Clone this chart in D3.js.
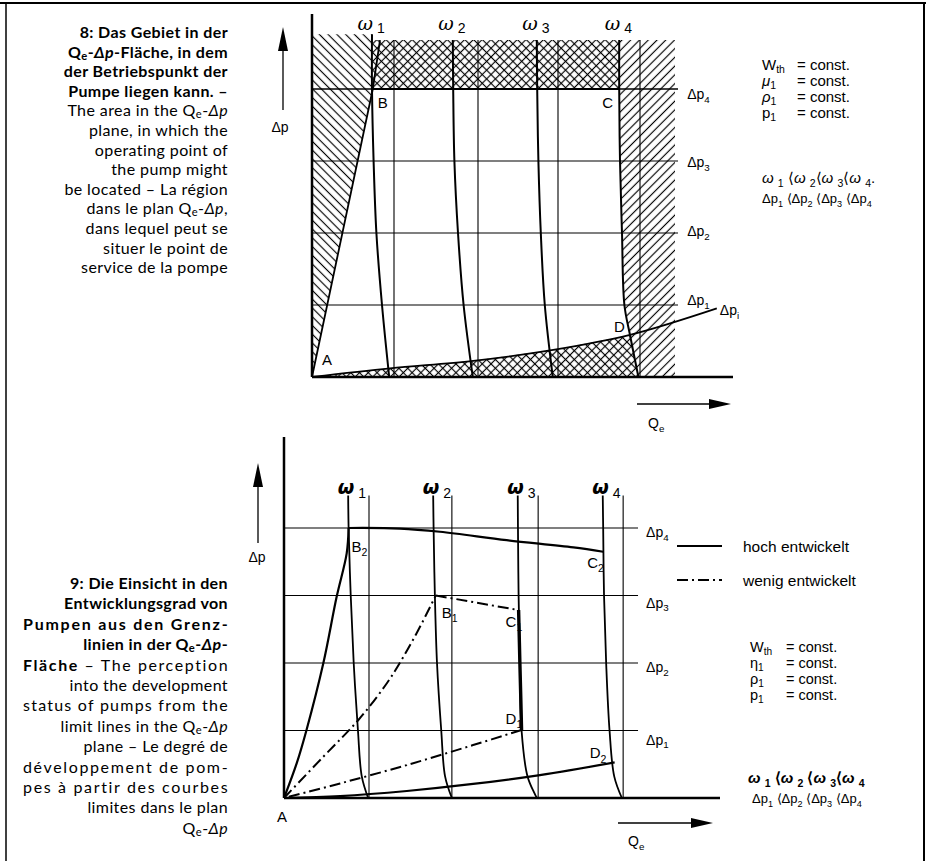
<!DOCTYPE html>
<html><head><meta charset="utf-8">
<script src="https://cdn.jsdelivr.net/npm/d3@7"></script>
<style>body{margin:0;background:#fff} svg{display:block}</style>
</head><body>
<svg id="c" width="933" height="861"></svg>
<script>
// ---------------- data ----------------
const dpLevels = [25, 50, 75, 100];
const levelSubs = ["1", "2", "3", "4"];

// Fig. 8 (top)
const topOmegaLineQ = [20.5, 41.5, 61.5, 82];
const topOmegaCurves = [
  [[15.0,119],[15.0,100],[15.4,75],[16.1,50],[17.5,25],[19.3,0]],
  [[35.2,117],[35.3,100],[35.6,75],[36.5,50],[37.9,25],[40.2,0]],
  [[56.2,117],[56.3,100],[56.6,75],[57.2,50],[58.2,25],[60.2,0]],
  [[76.8,117],[76.8,100],[77.0,75],[77.5,50],[78.1,25],[79.5,14.6],[81.6,0]]
];
const topAB = [[0,0],[15.2,100],[17,117]];
const topDpi = [[0,0],[19.5,3.0],[40.3,5.6],[60.3,9.4],[79.5,14.6],[101.2,23.8]];
const topHatchTop = 117, topHatchRight = 90.75;

// Fig. 9 (bottom)
const botOmegaLineQ = [20, 39.5, 59.8, 79.8];
const botOmegaCurves = [
  [[15.1,112],[15.2,100],[15.7,75],[16.4,50],[17.4,25],[18.3,8],[19.8,0]],
  [[35.1,112],[35.2,100],[35.5,75],[36.0,50],[37.0,25],[37.9,8],[39.5,0]],
  [[55.0,112],[55.05,100],[55.2,75],[55.5,50],[55.9,25],[57.3,8],[59.5,0]],
  [[75.0,112],[75.1,100],[75.3,75],[75.8,50],[76.6,25],[77.7,8],[79.5,0]]
];
// "hoch entwickelt" (solid)
const hiAB = [[0,0],[3.0,12.9],[5.3,25.2],[9.25,49.9],[12.4,74.6],[14.75,90.6],[15.2,100]];
const hiBC = [[15.2,100],[27.3,99.8],[36.7,98.6],[52.4,95.5],[68.1,92.8],[75.1,91.2]];
const hiDA = [[77.8,13.2],[60.2,8.5],[44.5,5.2],[28.9,2.6],[13.2,0.7],[0,0]];
// "wenig entwickelt" (dash-dot)
const loAB = [[0,0],[9.25,15.3],[17.5,28.9],[24.2,42.5],[28.1,52.3],[32,63.4],[35.7,75]];
const loBC = [[35.7,75],[55.2,69.6]];
const loCD = [[55.2,69.6],[55.35,60],[55.5,50],[55.7,38],[55.9,25.2]];
const loDA = [[55.9,25.2],[44.5,19.6],[28.9,12.2],[13.2,5.4],[0,0]];

// texts
const capTop = ["8: Das Gebiet in der","Q_e-*Δp*-Fläche, in dem","der Betriebspunkt der","Pumpe liegen kann. –",
  "The area in the Q_e-*Δp*","plane, in which the","operating point of","the pump might",
  "be located – La région","dans le plan Q_e-*Δp*,","dans lequel peut se","situer le point de","service de la pompe"];
const capTopBold = 4;
const capBot = ["9: Die Einsicht in den","Entwicklungsgrad von","Pumpen aus den Grenz-","linien in der Q_e-*Δp*-",
  "#Fläche# – The perception","into the development","status of pumps from the","limit lines in the Q_e-*Δp*",
  "plane – Le degré de","développement de pom-","pes à partir des courbes","limites dans le plan","Q_e-*Δp*"];
const capBotBold = 4;
const capBotJustify = [2, 4, 6, 9, 10];
const constTop = [["W_{th}","= const."],["*μ*_1","= const."],["*ρ*_1","= const."],["p_1","= const."]];
const constBot = [["W_{th}","= const."],["η_1","= const."],["ρ_1","= const."],["p_1","= const."]];
const orderTopOmega = "*ω* _1 ⟨*ω* _2⟨*ω* _3⟨*ω* _4.";
const orderBotOmega = "*ω* _1 ⟨*ω* _2 ⟨*ω* _3⟨*ω* _4";
const orderDp = "Δp_1 ⟨Δp_2 ⟨Δp_3 ⟨Δp_4";
const legendItems = ["hoch entwickelt", "wenig entwickelt"];

// ---------------- drawing ----------------
const svg = d3.select("#c");
svg.append("rect").attr("width",933).attr("height",861).attr("fill","#fff");
const defs = svg.append("defs");
function hatch(id, angle, cross){
  const s = 6.2, h = s/2;
  const p = defs.append("pattern").attr("id",id).attr("patternUnits","userSpaceOnUse")
    .attr("width",s).attr("height",s).attr("patternTransform",`rotate(${angle})`);
  p.append("line").attr("x1",h).attr("y1",-1).attr("x2",h).attr("y2",s+1).attr("stroke","#000").attr("stroke-width",1.15);
  if(cross) p.append("line").attr("x1",-1).attr("y1",h).attr("x2",s+1).attr("y2",h).attr("stroke","#000").attr("stroke-width",1.15);
}
hatch("hb", -45, false);
hatch("hf", 45, false);
hatch("hx", 45, true);

function rich(t, str, fs, subShift){
  const parts = str.split(/(_\{[^}]*\}|_[^\s{]|\*[^*]*\*|#[^#]*#)/).filter(s => s !== "");
  let shifted = false;
  const sh = fs * (subShift || 0.28);
  parts.forEach(p => {
    const ts = t.append("tspan");
    if(p[0] === "_"){
      const s = p[1] === "{" ? p.slice(2,-1) : p.slice(1);
      ts.text(s).attr("font-size", fs*0.7);
      if(!shifted) ts.attr("dy", sh);
      shifted = true;
    } else {
      if(p[0] === "*"){ ts.text(p.slice(1,-1)).attr("font-style","italic"); }
      else if(p[0] === "#"){ ts.text(p.slice(1,-1)).attr("font-weight","bold"); }
      else ts.text(p);
      if(shifted){ ts.attr("dy", -sh); shifted = false; }
    }
  });
  return t;
}
function txt(g, x, y, str, fs, opt={}){
  const t = g.append("text").attr("x",x).attr("y",y).attr("font-size",fs)
    .attr("font-family", opt.font || "'Liberation Sans', Arial, sans-serif")
    .attr("text-anchor", opt.anchor || "start").attr("fill","#000");
  if(opt.weight) t.attr("font-weight", opt.weight);
  if(opt.style) t.attr("font-style", opt.style);
  if(opt.ls) t.attr("letter-spacing", opt.ls);
  return rich(t, str, fs, opt.subShift);
}

// frame
const frame = svg.append("g").attr("stroke","#000").attr("fill","none");
frame.append("line").attr("x1",0).attr("y1",3).attr("x2",926).attr("y2",3).attr("stroke-width",2);
frame.append("line").attr("x1",6).attr("y1",3).attr("x2",6).attr("y2",861).attr("stroke-width",1.5);
frame.append("line").attr("x1",924).attr("y1",3).attr("x2",924).attr("y2",861).attr("stroke-width",2);

// captions
const capFont = "Lato, 'Open Sans', sans-serif";
capTop.forEach((s,i) => {
  txt(svg, 228, 38 + i*19.6, s, 16, {anchor:"end", font:capFont, ls:0.4, subShift:0.12, weight: i < capTopBold ? "bold" : "normal"});
});
capBot.forEach((s,i) => {
  const t = txt(svg, 228, 589 + i*20.4, s, 16, {anchor:"end", font:capFont, ls:0.4, subShift:0.12, weight: i < capBotBold ? "bold" : "normal"});
  if(capBotJustify.includes(i)) t.attr("textLength", 205).attr("lengthAdjust","spacing");
});

// arrows
function arrowV(x, yTop, yBot){
  svg.append("line").attr("x1",x).attr("y1",yTop+18).attr("x2",x).attr("y2",yBot).attr("stroke","#000").attr("stroke-width",1.3);
  svg.append("path").attr("d",`M${x},${yTop} L${x-5},${yTop+24} L${x+5},${yTop+24} Z`).attr("fill","#000");
}
function arrowH(x1, x2, y){
  svg.append("line").attr("x1",x1).attr("y1",y).attr("x2",x2-18).attr("y2",y).attr("stroke","#000").attr("stroke-width",1.3);
  svg.append("path").attr("d",`M${x2},${y} L${x2-22},${y-5} L${x2-22},${y+5} Z`).attr("fill","#000");
}

// ======== Fig 8 ========
const xT = d3.scaleLinear().domain([0,100]).range([312,712]);
const yT = d3.scaleLinear().domain([0,100]).range([377,89]);
const gT = svg.append("g");
const lin = (xs, ys) => d3.line().x(d => xs(d[0])).y(d => ys(d[1]));
const crv = (xs, ys) => d3.line().x(d => xs(d[0])).y(d => ys(d[1])).curve(d3.curveCatmullRom.alpha(0.5));
const polyT = lin(xT, yT);

const w1 = topOmegaCurves[0], w4 = topOmegaCurves[3];
const iD = w4.findIndex(p => p[1] < 20);
const Dpt = topDpi[4];
// hatch regions
gT.append("path").attr("d", polyT([[0,0],[0,w1[0][1]],[w1[0][0],w1[0][1]],topAB[1],[0,0]])).attr("fill","url(#hb)");
gT.append("path").attr("d", polyT([topAB[1],[w1[0][0],topHatchTop],[w4[0][0],topHatchTop],w4[1]])).attr("fill","url(#hx)");
gT.append("path").attr("d", polyT([...w4, [topHatchRight,0],[topHatchRight,topHatchTop]])).attr("fill","url(#hf)");
gT.append("path").attr("d", polyT([...topDpi.slice(0,5), ...w4.slice(iD+1), [0,0]])).attr("fill","url(#hx)");

// Δp lines
dpLevels.forEach((v,i) => {
  gT.append("line").attr("x1",xT(0)).attr("x2",xT(91.5)).attr("y1",yT(v)).attr("y2",yT(v))
    .attr("stroke","#000").attr("stroke-width", i===3 ? 1.6 : 1.1);
  txt(gT, xT(93.8), yT(v) + [0,3,6,10][i], "Δp_" + levelSubs[i], 14);
});
// straight ω lines
topOmegaLineQ.forEach(q => {
  gT.append("line").attr("x1",xT(q)).attr("x2",xT(q)).attr("y1",yT(topHatchTop)).attr("y2",yT(0))
    .attr("stroke","#000").attr("stroke-width",1.1);
});
// ω curves
topOmegaCurves.forEach((c,i) => {
  gT.append("path").attr("d", crv(xT,yT)(c)).attr("fill","none").attr("stroke","#000").attr("stroke-width",2);
  gT.append("text").attr("x", xT(c[0][0]) + 1).attr("y", 30).attr("text-anchor","end")
    .attr("font-family","'DejaVu Serif', serif").attr("font-style","italic").attr("font-size",19).text("ω");
  txt(gT, xT(c[0][0]) + 5, 33, levelSubs[i], 14);
});
// A-B line, Δpi line
gT.append("path").attr("d", polyT(topAB)).attr("fill","none").attr("stroke","#000").attr("stroke-width",1.8);
gT.append("path").attr("d", crv(xT,yT)(topDpi)).attr("fill","none").attr("stroke","#000").attr("stroke-width",1.8);
gT.append("line").attr("x1",xT(topAB[1][0])).attr("x2",xT(w4[1][0])).attr("y1",yT(100)).attr("y2",yT(100)).attr("stroke","#000").attr("stroke-width",2);
txt(gT, xT(topDpi[5][0]) + 3, yT(topDpi[5][1]) + 7, "Δp_i", 14);
// axes
gT.append("line").attr("x1",xT(0)).attr("x2",xT(0)).attr("y1",14).attr("y2",yT(0)).attr("stroke","#000").attr("stroke-width",2.5);
gT.append("line").attr("x1",xT(0)).attr("x2",733).attr("y1",yT(0)).attr("y2",yT(0)).attr("stroke","#000").attr("stroke-width",2.5);
// point labels
txt(gT, xT(0)+10, yT(0)-12, "A", 15);
txt(gT, xT(topAB[1][0])+5, yT(100)+19, "B", 15);
txt(gT, xT(w4[1][0])-17, yT(100)+19, "C", 15);
txt(gT, xT(Dpt[0])-16, yT(Dpt[1])-3, "D", 15);
arrowV(283, 27, 110);
txt(svg, 280, 132, "Δp", 14, {anchor:"middle"});
arrowH(637, 731, 404);
txt(svg, 648, 428, "Q_e", 14);
// constants
constTop.forEach((r,i) => {
  txt(svg, 762, 70 + i*16, r[0], 15, {subShift:0.18});
  txt(svg, 797, 70 + i*16, r[1], 15);
});
txt(svg, 762, 183, orderTopOmega, 15);
txt(svg, 762, 203, orderDp, 13);

// ======== Fig 9 ========
const xB = d3.scaleLinear().domain([0,100]).range([284,709]);
const yB = d3.scaleLinear().domain([0,100]).range([798,528]);
const gB = svg.append("g");
dpLevels.forEach((v,i) => {
  gB.append("line").attr("x1",xB(0)).attr("x2",xB(83.3)).attr("y1",yB(v)).attr("y2",yB(v))
    .attr("stroke","#000").attr("stroke-width",1.1);
  txt(gB, xB(85.2), yB(v) + [14,9,12,9][i], "Δp_" + levelSubs[i], 14);
});
botOmegaLineQ.forEach(q => {
  gB.append("line").attr("x1",xB(q)).attr("x2",xB(q)).attr("y1",yB(112)).attr("y2",yB(0))
    .attr("stroke","#000").attr("stroke-width",1.1);
});
botOmegaCurves.forEach((c,i) => {
  gB.append("path").attr("d", crv(xB,yB)(c)).attr("fill","none").attr("stroke","#000").attr("stroke-width",1.8);
  gB.append("text").attr("x", xB(c[0][0]) + 6).attr("y", 494).attr("text-anchor","end")
    .attr("font-family","'DejaVu Sans', sans-serif").attr("font-style","italic").attr("font-weight","bold").attr("font-size",19).text("ω");
  txt(gB, xB(c[0][0]) + 10, 498, levelSubs[i], 14);
});
// high developed
[hiAB, hiBC, hiDA].forEach(d => {
  gB.append("path").attr("d", crv(xB,yB)(d)).attr("fill","none").attr("stroke","#000").attr("stroke-width",2.2);
});
// low developed
[loAB, loBC, loDA].forEach(d => {
  gB.append("path").attr("d", crv(xB,yB)(d)).attr("fill","none").attr("stroke","#000").attr("stroke-width",2)
    .attr("stroke-dasharray","11,4,2,4");
});
gB.append("path").attr("d", crv(xB,yB)(loCD)).attr("fill","none").attr("stroke","#000").attr("stroke-width",3.4);
// axes
gB.append("line").attr("x1",xB(0)).attr("x2",xB(0)).attr("y1",437).attr("y2",yB(0)).attr("stroke","#000").attr("stroke-width",2.5);
gB.append("line").attr("x1",xB(0)).attr("x2",720).attr("y1",yB(0)).attr("y2",yB(0)).attr("stroke","#000").attr("stroke-width",2.5);
// labels
txt(gB, xB(0)-7, yB(0)+24, "A", 15);
txt(gB, xB(hiAB[6][0])+3, yB(hiAB[6][1])+24, "B_2", 15);
txt(gB, xB(hiBC[5][0])-16, yB(hiBC[5][1])+16, "C_2", 15);
txt(gB, xB(loAB[6][0])+6, yB(loAB[6][1])+22, "B_1", 15);
txt(gB, xB(loBC[1][0])-13, yB(loBC[1][1])+17, "C_1", 15);
txt(gB, xB(loDA[0][0])-16, yB(loDA[0][1])-6, "D_1", 15);
txt(gB, xB(hiDA[0][0])-25, yB(hiDA[0][1])-4, "D_2", 15);
arrowV(258, 463, 543);
txt(svg, 257, 562, "Δp", 14, {anchor:"middle"});
arrowH(618, 713, 823);
txt(svg, 628, 846, "Q_e", 14);
// legend
const lg = svg.append("g");
lg.append("line").attr("x1",677).attr("x2",722).attr("y1",546).attr("y2",546).attr("stroke","#000").attr("stroke-width",2);
lg.append("line").attr("x1",677).attr("x2",722).attr("y1",580).attr("y2",580).attr("stroke","#000").attr("stroke-width",2).attr("stroke-dasharray","11,4,2,4");
legendItems.forEach((s,i) => txt(lg, 743, 552 + i*34, s, 15.5));
constBot.forEach((r,i) => {
  txt(svg, 750, 652 + i*16, r[0], 14.5, {subShift:0.18});
  txt(svg, 786, 652 + i*16, r[1], 14.5);
});
txt(svg, 748, 783, orderBotOmega, 15, {weight:"bold"});
txt(svg, 752, 803, orderDp, 13);
</script>
</body></html>
